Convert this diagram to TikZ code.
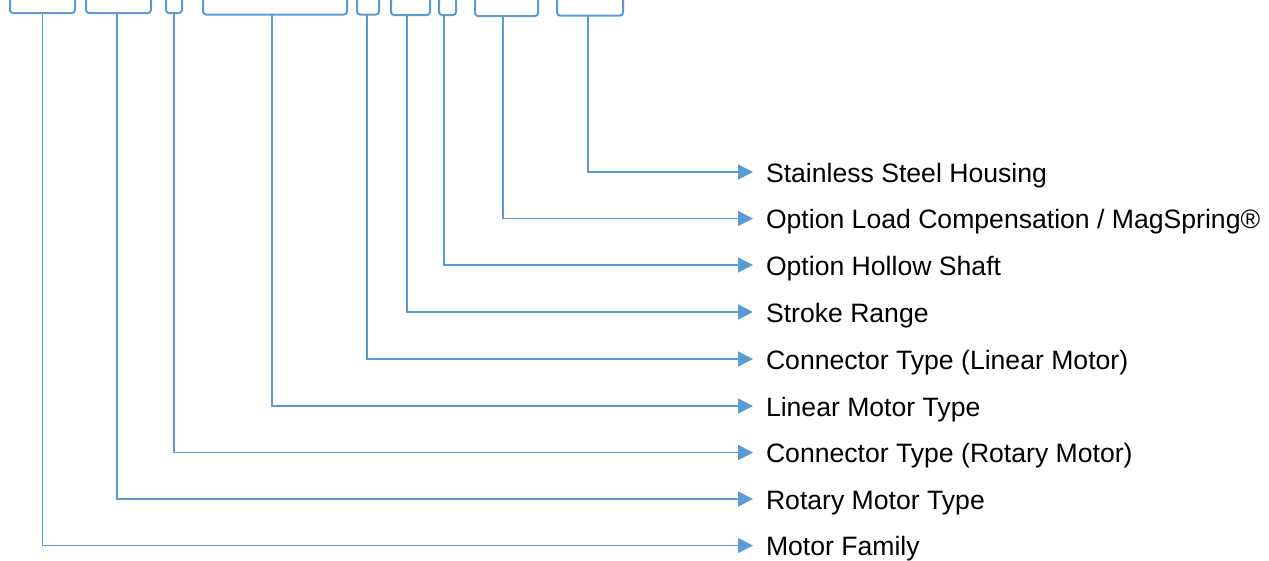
\documentclass[tikz,border=0pt]{standalone}
\usepackage{fontspec}
\setmainfont{Liberation Sans}
\usetikzlibrary{arrows.meta}
\definecolor{lineblue}{RGB}{91,155,213}
\begin{document}
\begin{tikzpicture}[x=1pt,y=-1pt,
  bracketline/.style={draw=lineblue,line width=2pt,rounded corners=3pt},
  conn/.style={draw=lineblue,line width=1.6pt,-{Triangle[length=15pt,width=15pt]}},
  lbl/.style={anchor=west,inner sep=0pt,outer sep=0pt,font=\fontsize{26.6}{32}\selectfont,text height=17.5pt,text depth=0pt}]
\useasboundingbox (0,0) rectangle (1269,560);
% brackets
\draw[bracketline] (10,-2) -- (10,13) -- (75,13) -- (75,-2);
\draw[bracketline] (86,-2) -- (86,13) -- (151,13) -- (151,-2);
\draw[bracketline] (166,-2) -- (166,13) -- (182,13) -- (182,-2);
\draw[bracketline] (203,-2) -- (203,14.5) -- (347,14.5) -- (347,-2);
\draw[bracketline] (357,-2) -- (357,14.5) -- (379,14.5) -- (379,-2);
\draw[bracketline] (391,-2) -- (391,15) -- (430,15) -- (430,-2);
\draw[bracketline] (439,-2) -- (439,15) -- (456,15) -- (456,-2);
\draw[bracketline] (475,-2) -- (475,16) -- (538,16) -- (538,-2);
\draw[bracketline] (557,-2) -- (557,15.5) -- (623,15.5) -- (623,-2);
\coordinate (b1) at (42.5,13);
\coordinate (b2) at (117,13);
\coordinate (b3) at (174,13);
\coordinate (b4) at (272,14.5);
\coordinate (b5) at (367,14.5);
\coordinate (b6) at (407,15);
\coordinate (b7) at (444,15);
\coordinate (b8) at (503,16);
\coordinate (b9) at (588,15.5);
% labels
\node[lbl] (l9) at (766,173.5) {Stainless Steel Housing};
\node[lbl] (l8) at (766,220) {Option Load Compensation / MagSpring®};
\node[lbl] (l7) at (766,266.5) {Option Hollow Shaft};
\node[lbl] (l6) at (766,313.5) {Stroke Range};
\node[lbl] (l5) at (766,360.5) {Connector Type (Linear Motor)};
\node[lbl] (l4) at (766,407.5) {Linear Motor Type};
\node[lbl] (l3) at (766,454) {Connector Type (Rotary Motor)};
\node[lbl] (l2) at (766,500.5) {Rotary Motor Type};
\node[lbl] (l1) at (766,547) {Motor Family};
% connectors
\foreach \i/\y in {9/172,8/218.5,7/265,6/312,5/359,4/406,3/452.5,2/499,1/545.5}{
  \draw[conn] (b\i) |- (753,\y);
}
\end{tikzpicture}
\end{document}
